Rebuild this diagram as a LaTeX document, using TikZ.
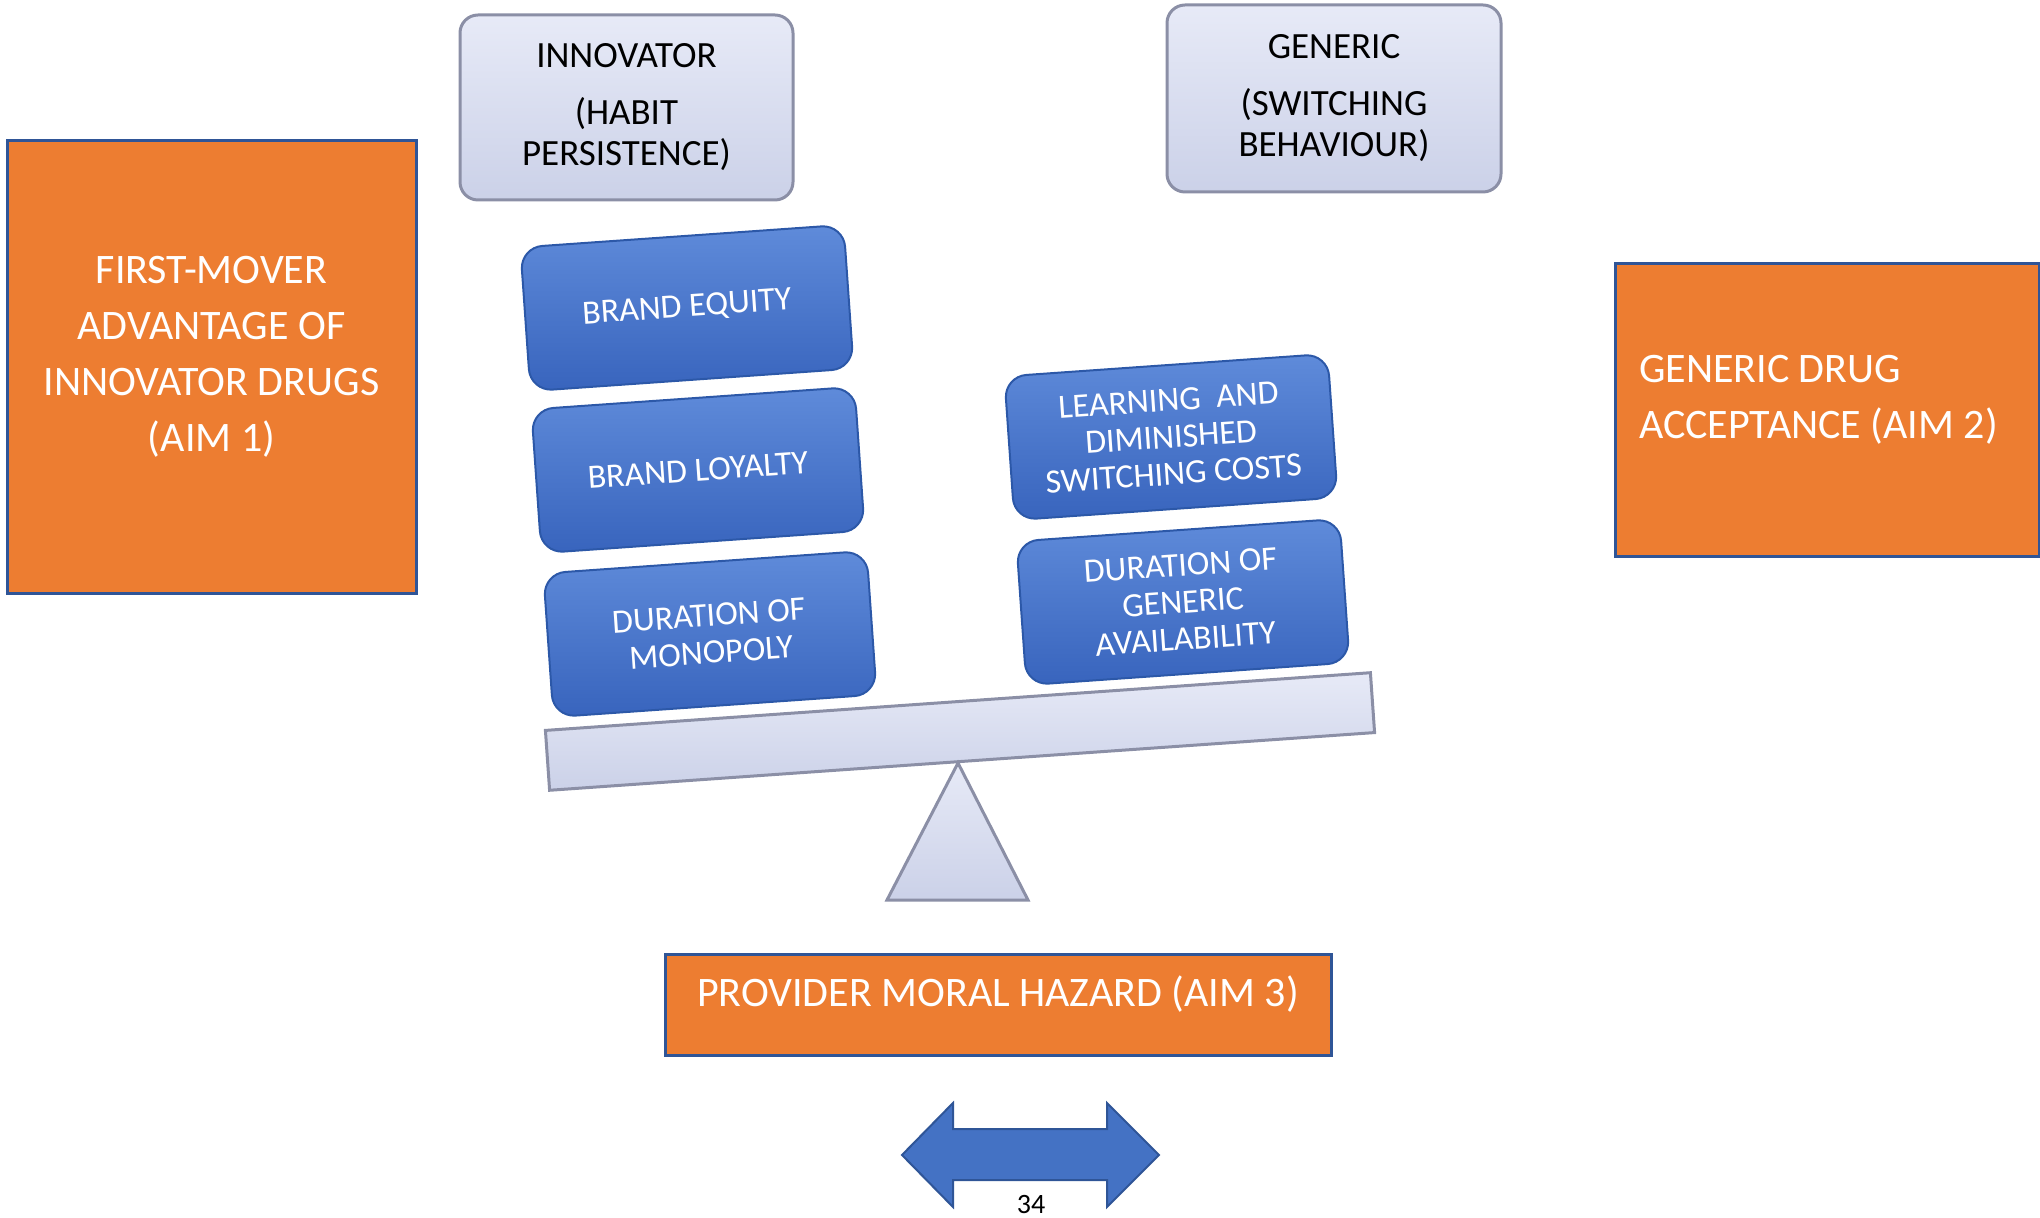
\documentclass[tikz,border=0pt]{standalone}
\usepackage{fontspec}
\setmainfont{Carlito}
\definecolor{aimorange}{HTML}{ED7D31}
\definecolor{aimedge}{HTML}{2F5597}
\definecolor{factortop}{HTML}{5F8BDA}
\definecolor{factorbot}{HTML}{3864BD}
\definecolor{factoredge}{HTML}{2C58A8}
\definecolor{paletop}{HTML}{E7EAF7}
\definecolor{palebot}{HTML}{CBD1E8}
\definecolor{paleedge}{HTML}{8B8FA6}
\definecolor{swingblue}{HTML}{4472C4}

\begin{document}
\begin{tikzpicture}[x=0.5pt, y=-0.5pt,
  aim/.style={draw=aimedge, line width=1.5pt, fill=aimorange},
  aimtext/.style={text=white, font=\fontsize{21}{28}\selectfont},
  pale/.style={draw=paleedge, line width=1.5pt, top color=paletop, bottom color=palebot},
  side/.style={pale, rounded corners=9pt, align=center, font=\fontsize{18.5}{20.5}\selectfont},
  factor/.style={draw=factoredge, line width=1pt, rounded corners=11pt, top color=factortop, bottom color=factorbot,
    text=white, align=center, font=\fontsize{17}{18.5}\selectfont,
    minimum width=162pt, minimum height=72pt, rotate=4}]
\useasboundingbox (0,0) rectangle (2040,1218);

\node at (211.5,367.5) (Aim1) [aim, minimum width=204.5pt, minimum height=226.5pt] {};
\node at ([yshift=5.5pt]Aim1.center) (Aim1Text) [aimtext, align=center] {FIRST-MOVER\\ADVANTAGE OF\\INNOVATOR DRUGS\\(AIM 1)};

\node at (1827,410.5) (Aim2) [aim, minimum width=212pt, minimum height=146.5pt] {};
\node at ([yshift=5.5pt]Aim2.center) (Aim2Text) [aimtext, align=flush left, text width=188pt] {GENERIC DRUG\\ACCEPTANCE (AIM 2)};

\node at (998,1004.5) (Aim3) [aim, minimum width=333pt, minimum height=50.5pt] {};
\node at ([yshift=5pt]Aim3.center) (Aim3Text) [aimtext] {PROVIDER MORAL HAZARD (AIM 3)};

\node at (626.5,107.5) (Innovator) [side, minimum width=166.5pt, minimum height=92.5pt] {INNOVATOR\\[8pt](HABIT\\PERSISTENCE)};
\node at (1334,98.5) (Generic) [side, minimum width=167pt, minimum height=93.5pt] {GENERIC\\[8pt](SWITCHING\\BEHAVIOUR)};

\node at (960,731.5) (Beam) [pale, minimum width=413.5pt, minimum height=30pt, rotate=4] {};
\draw[pale] (958,763) -- (1028,900) -- (887,900) -- cycle;

\node at (687,308) (Equity) [factor] {BRAND EQUITY};
\node at (698,470) (Loyalty) [factor] {BRAND LOYALTY};
\node at (710,634) (Monopoly) [factor] {DURATION OF\\MONOPOLY};
\node at (1171,437) (Learning) [factor] {LEARNING\ \ AND\\DIMINISHED\\SWITCHING COSTS};
\node at (1183,602) (Availability) [factor] {DURATION OF\\GENERIC\\AVAILABILITY};

\draw[fill=swingblue, draw=aimedge, line width=1pt] (902,1155) -- (953,1103) -- (953,1129) -- (1107,1129) -- (1107,1103) -- (1159,1155)
  -- (1107,1207) -- (1107,1180) -- (953,1180) -- (953,1207) -- cycle;
\node at (1031,1205) (PageNo) [font=\fontsize{14}{16}\selectfont] {34};
\end{tikzpicture}
\end{document}
